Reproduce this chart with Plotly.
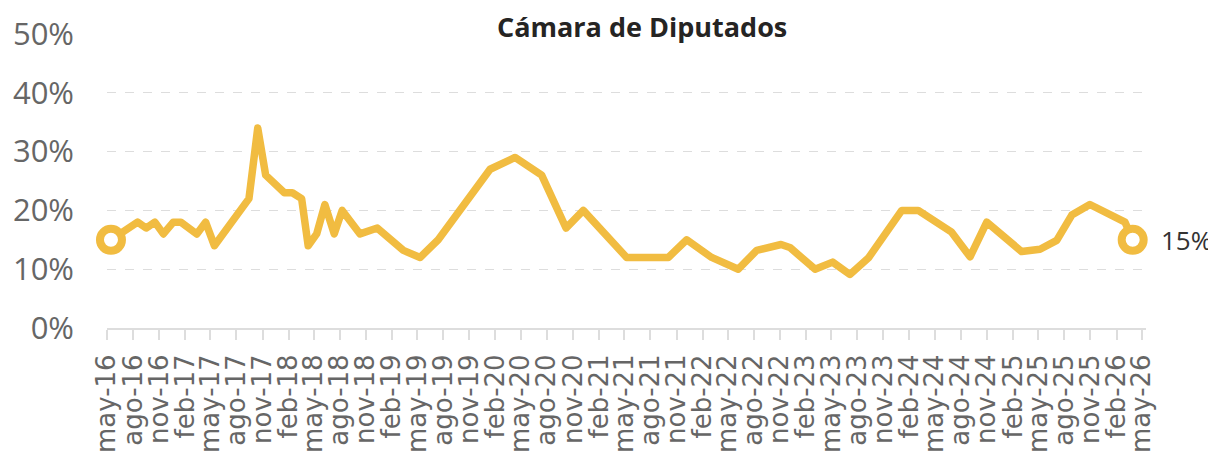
import plotly.graph_objects as go

# ---- data ----
dates = [
    "2016-05-15", "2016-08-17", "2016-09-16", "2016-10-17", "2016-11-16", "2016-12-21",
    "2017-01-17", "2017-03-14", "2017-04-14", "2017-05-15", "2017-09-14", "2017-10-15",
    "2017-11-12", "2018-01-17", "2018-02-14", "2018-03-19", "2018-04-11", "2018-05-11",
    "2018-06-09", "2018-07-12", "2018-08-09", "2018-10-11", "2018-12-11", "2019-03-13",
    "2019-05-11", "2019-07-14", "2020-01-13", "2020-04-10", "2020-07-13", "2020-10-07",
    "2020-12-07", "2021-05-09", "2021-10-03", "2021-12-07", "2022-03-05", "2022-06-07",
    "2022-08-11", "2022-11-05", "2022-12-06", "2023-03-05", "2023-05-06", "2023-07-06",
    "2023-09-09", "2024-01-05", "2024-03-03", "2024-06-29", "2024-09-02", "2024-10-31",
    "2025-03-03", "2025-05-07", "2025-07-05", "2025-08-27", "2025-10-30", "2026-03-03",
    "2026-03-30",
]
values = [
    0.15, 0.18, 0.17, 0.18, 0.16, 0.18,
    0.18, 0.16, 0.18, 0.14, 0.22, 0.34,
    0.26, 0.23, 0.23, 0.22, 0.14, 0.16,
    0.21, 0.16, 0.20, 0.16, 0.17, 0.132,
    0.12, 0.15, 0.27, 0.29, 0.26, 0.17,
    0.20, 0.12, 0.12, 0.15, 0.12, 0.10,
    0.132, 0.142, 0.137, 0.10, 0.112, 0.091,
    0.119, 0.20, 0.20, 0.163, 0.121, 0.18,
    0.13, 0.134, 0.149, 0.192, 0.21, 0.18,
    0.15,
]
tick_dates = [
    "2016-05-01", "2016-08-01", "2016-11-01", "2017-02-01", "2017-05-01", "2017-08-01",
    "2017-11-01", "2018-02-01", "2018-05-01", "2018-08-01", "2018-11-01", "2019-02-01",
    "2019-05-01", "2019-08-01", "2019-11-01", "2020-02-01", "2020-05-01", "2020-08-01",
    "2020-11-01", "2021-02-01", "2021-05-01", "2021-08-01", "2021-11-01", "2022-02-01",
    "2022-05-01", "2022-08-01", "2022-11-01", "2023-02-01", "2023-05-01", "2023-08-01",
    "2023-11-01", "2024-02-01", "2024-05-01", "2024-08-01", "2024-11-01", "2025-02-01",
    "2025-05-01", "2025-08-01", "2025-11-01", "2026-02-01", "2026-05-01",
]
tick_labels = [
    "may-16", "ago-16", "nov-16", "feb-17", "may-17", "ago-17", "nov-17", "feb-18",
    "may-18", "ago-18", "nov-18", "feb-19", "may-19", "ago-19", "nov-19", "feb-20",
    "may-20", "ago-20", "nov-20", "feb-21", "may-21", "ago-21", "nov-21", "feb-22",
    "may-22", "ago-22", "nov-22", "feb-23", "may-23", "ago-23", "nov-23", "feb-24",
    "may-24", "ago-24", "nov-24", "feb-25", "may-25", "ago-25", "nov-25", "feb-26",
    "may-26",
]
title_text = "Cámara de Diputados"

GOLD = "#F1BC41"
FONT = "Open Sans"

fig = go.Figure()
fig.add_trace(go.Scatter(
    x=dates, y=values, mode="lines",
    line=dict(color=GOLD, width=7.5),
    hoverinfo="skip", showlegend=False,
))
fig.add_trace(go.Scatter(
    x=[dates[0], dates[-1]], y=[values[0], values[-1]], mode="markers",
    marker=dict(symbol="circle", size=22, color="white",
                line=dict(color=GOLD, width=8)),
    cliponaxis=False,
    hoverinfo="skip", showlegend=False,
))

fig.add_annotation(
    x=dates[-1], y=values[-1], xref="x", yref="y",
    text=f"{values[-1]:.0%}", showarrow=False,
    xanchor="left", yanchor="middle", xshift=26,
    font=dict(family=FONT, size=26, color="#333333"),
)
fig.add_annotation(
    x=0.515, y=1, xref="paper", yref="paper",
    text=f"<b>{title_text}</b>", showarrow=False,
    xanchor="center", yanchor="middle", yshift=8,
    font=dict(family=FONT, size=27, color="#252423"),
)

# the page body adds an 8px offset, margins compensate for it
fig.update_layout(
    width=1216, height=456,
    margin=dict(l=99, r=78, t=26, b=136, autoexpand=False),
    paper_bgcolor="white", plot_bgcolor="white",
    font=dict(family=FONT, color="#666666"),
)
fig.update_xaxes(
    type="date",
    range=["2016-05-01", "2026-05-16"],
    tickmode="array", tickvals=tick_dates, ticktext=tick_labels,
    tickangle=-90,
    tickfont=dict(family="DejaVu Sans", size=26, color="#666666"),
    ticks="outside", ticklen=10, tickwidth=1.5, tickcolor="#DDDDDD",
    ticklabelstandoff=4,
    showline=True, linecolor="#DDDDDD", linewidth=2,
    showgrid=False, zeroline=False, automargin=False,
)
fig.update_yaxes(
    range=[0, 0.5], tickvals=[0, 0.1, 0.2, 0.3, 0.4, 0.5],
    tickformat=".0%",
    tickfont=dict(family=FONT, size=31, color="#666666"),
    showgrid=True, gridcolor="#DDDDDD", gridwidth=1, griddash="dash",
    zeroline=False, showline=False, ticks="",
    ticklabelstandoff=32, automargin=False,
)

round_joins = (
    "var gd=document.getElementById('{plot_id}');"
    "function rj(){gd.querySelectorAll('.scatterlayer .js-line').forEach("
    "function(p){p.style.strokeLinejoin='round';p.style.strokeLinecap='round';});}"
    "rj();gd.on('plotly_afterplot',rj);"
)
fig.write_html("out.html", post_script=round_joins)
